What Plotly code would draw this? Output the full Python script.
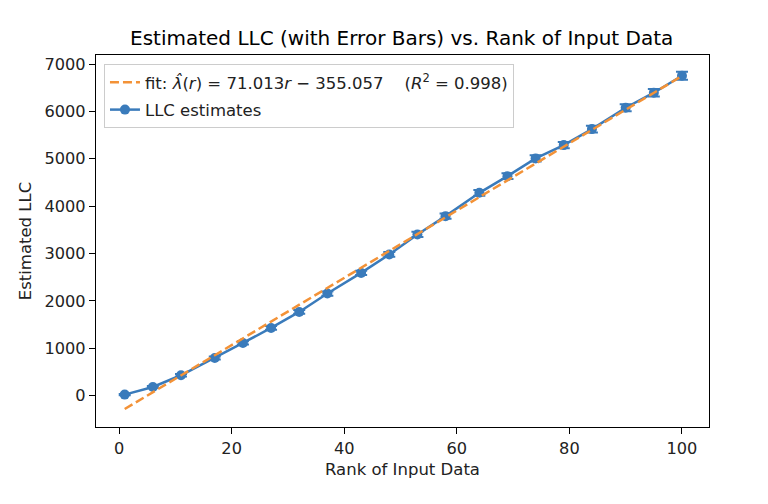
import plotly.graph_objects as go

# Values
ranks = [1, 6, 11, 17, 22, 27, 32, 37, 43, 48, 53, 58, 64, 69, 74, 79, 84, 90, 95, 100]
llc_mean = [21, 182, 429, 794, 1111, 1428, 1766, 2155, 2590, 2979,
            3402, 3788, 4281, 4633, 5007, 5288, 5626, 6077, 6394, 6753]
llc_err = [15, 20, 25, 30, 35, 40, 40, 45, 45, 50,
           55, 55, 60, 60, 65, 65, 70, 75, 80, 85]

# Linear fit reported in the legend
slope = 71.013
intercept = -355.057
r_squared = 0.998
fit_vals = [slope * r + intercept for r in ranks]

blue = '#3a7bbb'
orange = '#f39237'
font = 'DejaVu Sans, Liberation Sans, sans-serif'

fig = go.Figure()

# LLC estimates with error bars
fig.add_trace(go.Scatter(
    x=ranks, y=llc_mean, mode='lines+markers', name='LLC estimates',
    line=dict(color=blue, width=2.5),
    marker=dict(color=blue, size=10),
    error_y=dict(type='data', array=llc_err, visible=True, color=blue, thickness=2, width=6),
    legendgroup='est', legendrank=2,
))

# fit line (dashed)
fit_label = ('fit: <i>λ̂</i>(<i>r</i>) = 71.013<i>r</i> − 355.057'
             '    (<i>R</i><sup>2</sup> = %.3f)' % r_squared)
fig.add_trace(go.Scatter(
    x=ranks, y=fit_vals, mode='lines', name=fit_label,
    line=dict(color=orange, width=2.5, dash='9px,4px'),
    legendgroup='fit', legendrank=1,
))

axis_style = dict(
    showline=True, linecolor='black', linewidth=1.3, mirror=True,
    ticks='outside', ticklen=6, tickwidth=1.3, tickcolor='black',
    showgrid=False, zeroline=False,
    tickfont=dict(size=16.2, color='#222222'),
)

# page is drawn with an 8px body margin, so the figure is a bit smaller than the window
fig.update_layout(
    width=760, height=496,
    margin=dict(l=88, r=59, t=47, b=77),
    paper_bgcolor='white', plot_bgcolor='white',
    font=dict(family=font, color='#222222'),
    title=dict(text='Estimated LLC (with Error Bars) vs. Rank of Input Data',
               x=0.518, xanchor='center', y=0.94, yanchor='middle',
               font=dict(size=20, color='black')),
    xaxis=dict(title=dict(text='Rank of Input Data', font=dict(size=16.5), standoff=6),
               range=[-4.1, 104.8], tickvals=[0, 20, 40, 60, 80, 100], **axis_style),
    yaxis=dict(title=dict(text='Estimated LLC', font=dict(size=16.5), standoff=8),
               range=[-663, 7190], tickvals=[0, 1000, 2000, 3000, 4000, 5000, 6000, 7000],
               **axis_style),
    legend=dict(x=0.013, y=0.976, xanchor='left', yanchor='top',
                bgcolor='rgba(255,255,255,0.8)', bordercolor='#cccccc', borderwidth=1,
                font=dict(size=16.5, color='#222222'), tracegroupgap=3, itemwidth=30),
    showlegend=True,
)

fig.write_html("out.html")
